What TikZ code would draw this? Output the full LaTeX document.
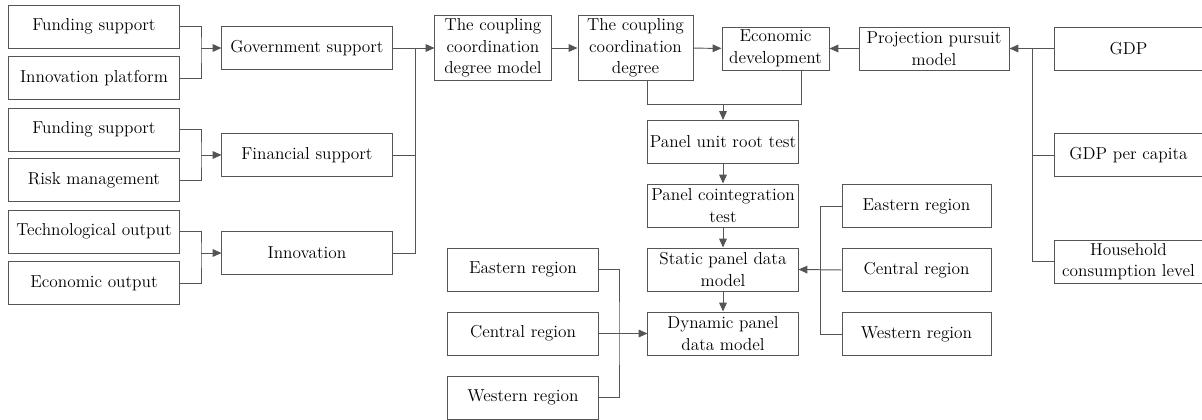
\documentclass[tikz,border=0pt]{standalone}
\usepackage{tikz}
\usetikzlibrary{arrows.meta, positioning, calc}

\definecolor{linegray}{HTML}{555555}
\tikzset{
  blk/.style={draw=linegray, line width=0.7pt, inner sep=0pt, align=center,
    minimum height=1.075cm, font=\fontsize{12.3}{15.4}\selectfont},
  arr/.style={-{Triangle[length=0.22cm,width=0.19cm]}},
  wire/.style={draw=linegray, line width=0.7pt}
}

\begin{document}
\begin{tikzpicture}[x=0.025cm, y=-0.025cm]
        \useasboundingbox (0,0) rectangle (1202,420);

        % Left column: indicators
        \node[blk, minimum width=4.25cm] (fs1) at (94,26.5) {Funding support};
        \node[blk, minimum width=4.25cm] (ip) at (94,78) {Innovation platform};
        \node[blk, minimum width=4.25cm] (fs2) at (94,129.5) {Funding support};
        \node[blk, minimum width=4.25cm] (rm) at (94,180) {Risk management};
        \node[blk, minimum width=4.25cm] (tecout) at (94,231.5) {Technological output};
        \node[blk, minimum width=4.25cm] (ecoout) at (94,283) {Economic output};

        % Middle column: subsystems
        \node[blk, minimum width=4.25cm] (gov) at (307,48) {Government support};
        \node[blk, minimum width=4.25cm] (fin) at (307,155) {Financial support};
        \node[blk, minimum width=4.25cm] (inn) at (307,253) {Innovation};

        % Top row: models
        \node[blk, minimum width=2.9cm, minimum height=1.6cm] (ccdm) at (493,48) {The coupling\\coordination\\degree model};
        \node[blk, minimum width=2.875cm, minimum height=1.6cm] (ccd) at (635.5,48) {The coupling\\coordination\\degree};
        \node[blk, minimum width=2.675cm] (ed) at (775.5,48.5) {Economic\\development};
        \node[blk, minimum width=3.75cm] (ppm) at (934,48.5) {Projection pursuit\\model};

        % Right column: economic indicators (cut by the page edge)
        \node[blk, minimum width=3.725cm] (gdp) at (1128.5,48.5) {GDP};
        \node[blk, minimum width=3.725cm] (gdppc) at (1128.5,155) {GDP per capita};
        \node[blk, minimum width=3.725cm] (hcl) at (1128.5,261.5) {Household\\consumption level};

        % Test chain
        \node[blk, minimum width=3.75cm] (pum) at (723,142) {Panel unit root test};
        \node[blk, minimum width=3.75cm] (pct) at (723,205.5) {Panel cointegration\\test};
        \node[blk, minimum width=3.75cm] (spdm) at (723,269.5) {Static panel data\\model};
        \node[blk, minimum width=3.75cm] (dpdm) at (723,333.5) {Dynamic panel\\data model};

        % Regions, left and right
        \node[blk, minimum width=3.75cm] (lre) at (523,269.5) {Eastern region};
        \node[blk, minimum width=3.75cm] (lrc) at (523,333.5) {Central region};
        \node[blk, minimum width=3.75cm] (lrw) at (523,397.5) {Western region};
        \node[blk, minimum width=3.725cm] (rre) at (916.5,206) {Eastern region};
        \node[blk, minimum width=3.725cm] (rrc) at (916.5,270) {Central region};
        \node[blk, minimum width=3.725cm] (rrw) at (916.5,334) {Western region};

        % Junction points
        \coordinate (j1) at (201,48);
        \coordinate (j2) at (201,155);
        \coordinate (j3) at (201,253);
        \coordinate (j4) at (415,48);
        \coordinate (c1) at (647,104);
        \coordinate (c2) at (801,104);
        \coordinate (j6) at (619,333.5);
        \coordinate (j7) at (820,269.5);
        \coordinate (j8) at (1032,48.5);

        % Indicators to subsystems
        \draw[wire] (fs1.east) -| (j1) |- (ip.east);
        \draw[wire, arr] (j1) -- (gov.west);
        \draw[wire] (fs2.east) -| (j2) |- (rm.east);
        \draw[wire, arr] (j2) -- (fin.west);
        \draw[wire] (tecout.east) -| (j3) |- (ecoout.east);
        \draw[wire, arr] (j3) -- (inn.west);

        % Subsystems to the coupling model
        \draw[wire] (gov.east) -- (j4) |- (inn.east);
        \draw[wire] (fin.east) -- (fin.east -| j4);
        \draw[wire, arr] (j4) -- (ccdm.west);
        \draw[wire, arr] (ccdm) -- (ccd);
        \draw[wire, arr] (ccd) -- (ed);

        % Economic indicators to projection pursuit
        \draw[wire] (gdp.west) -- (j8) |- (hcl.west);
        \draw[wire] (gdppc.west) -- (gdppc.west -| j8);
        \draw[wire, arr] (j8) -- (ppm.east);
        \draw[wire, arr] (ppm) -- (ed);

        % Down into the test chain
        \draw[wire] (c1 |- ccd.south) -- (c1) -- (c2) -- (c2 |- ed.south);
        \draw[wire, arr] (c1 -| pum) -- (pum.north);
        \draw[wire, arr] (pum) -- (pct);
        \draw[wire, arr] (pct) -- (spdm);
        \draw[wire, arr] (spdm) -- (dpdm);

        % Regions into the panel models
        \draw[wire] (lre.east) -| (j6) |- (lrw.east);
        \draw[wire, arr] (lrc.east) -- (dpdm.west);
        \draw[wire] (rre.west) -| (j7) |- (rrw.west);
        \draw[wire, arr] (rrc.west) -- (spdm.east);
\end{tikzpicture}
\end{document}
